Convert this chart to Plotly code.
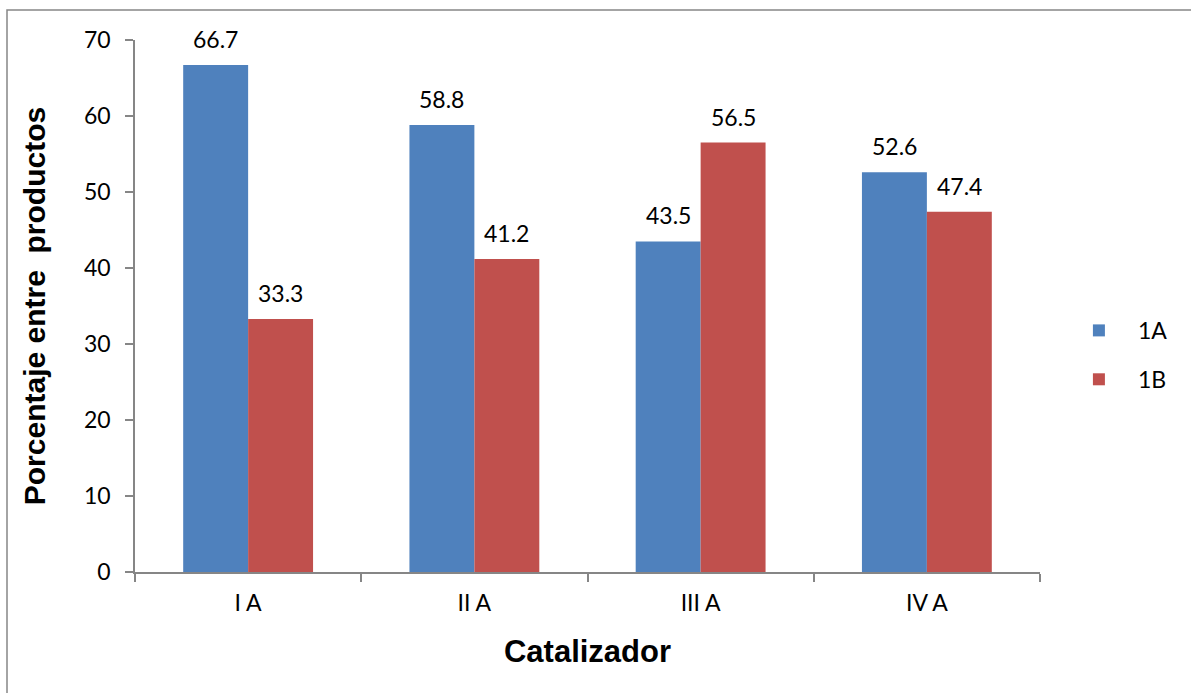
import plotly.graph_objects as go

categories = ["I A", "II A", "III A", "IV A"]
serie_1a = [66.7, 58.8, 43.5, 52.6]
serie_1b = [33.3, 41.2, 56.5, 47.4]
y_ticks = [0, 10, 20, 30, 40, 50, 60, 70]

BLUE = "#4F81BD"
RED = "#C0504D"
GRAY = "#868686"
TICKFONT = dict(family="Lato", size=23, color="black")

W, H = 1191, 693
ML, MR, MT, MB = 135, 151, 40, 121
BARGAP = 0.426
plot_w = W - ML - MR
plot_h = H - MT - MB
bar_w = plot_w / len(categories) * (1 - BARGAP) / 2

fig = go.Figure()
fig.add_trace(go.Bar(
    x=categories, y=serie_1a, name="1A", marker=dict(color=BLUE, line=dict(width=0)),
    legendgroup="a",
))
fig.add_trace(go.Bar(
    x=categories, y=serie_1b, name="1B", marker=dict(color=RED, line=dict(width=0)),
    legendgroup="b",
))

for values, sign in ((serie_1a, -1), (serie_1b, 1)):
    for cat, v in zip(categories, values):
        fig.add_annotation(
            x=cat, y=v, xref="x", yref="y", text=f"{v:.1f}", showarrow=False,
            xshift=sign * bar_w / 2, yshift=10, yanchor="bottom", font=TICKFONT,
        )

fig.update_layout(
    width=W, height=H,
    margin=dict(l=ML, r=MR, t=MT, b=MB, autoexpand=False),
    paper_bgcolor="white", plot_bgcolor="white",
    barmode="group", bargap=BARGAP, bargroupgap=0,
    font=dict(family="Lato", color="black"),
    xaxis=dict(
        type="category", tickson="boundaries", ticks="outside", ticklen=8,
        tickcolor=GRAY, tickwidth=1.5, showline=True, linecolor=GRAY, linewidth=1.5,
        tickfont=TICKFONT, showgrid=False, zeroline=False, ticklabelstandoff=10,
        title=dict(text="Catalizador", font=dict(family="Liberation Sans", size=31, color="black", weight="bold"), standoff=25),
    ),
    yaxis=dict(
        range=[0, 70], tickvals=y_ticks, ticks="outside", ticklen=8,
        tickcolor=GRAY, tickwidth=1.5, showline=True, linecolor=GRAY, linewidth=1.5,
        tickfont=TICKFONT, showgrid=False, zeroline=False, ticklabelstandoff=10,
        title=dict(text="Porcentaje entre  productos", font=dict(family="Liberation Sans", size=30, color="black", weight="bold"), standoff=29),
    ),
    legend=dict(
        x=1.022, xanchor="left", y=0.408, yanchor="middle",
        font=dict(family="Lato", size=23, color="black"),
        itemwidth=68, tracegroupgap=16, traceorder="grouped",
        bgcolor="rgba(0,0,0,0)",
    ),
    showlegend=True,
)

fig.add_shape(
    type="rect", xref="paper", yref="paper",
    x0=(7 - ML) / plot_w, x1=(W + 10 - ML) / plot_w,
    y0=(H - MB - H - 10) / plot_h, y1=1 + (MT - 10) / plot_h,
    line=dict(color=GRAY, width=1.5), fillcolor="rgba(0,0,0,0)", layer="below",
)

fig.write_html("out.html", config={"displayModeBar": False},
               post_script="document.body.style.margin='0px';")
